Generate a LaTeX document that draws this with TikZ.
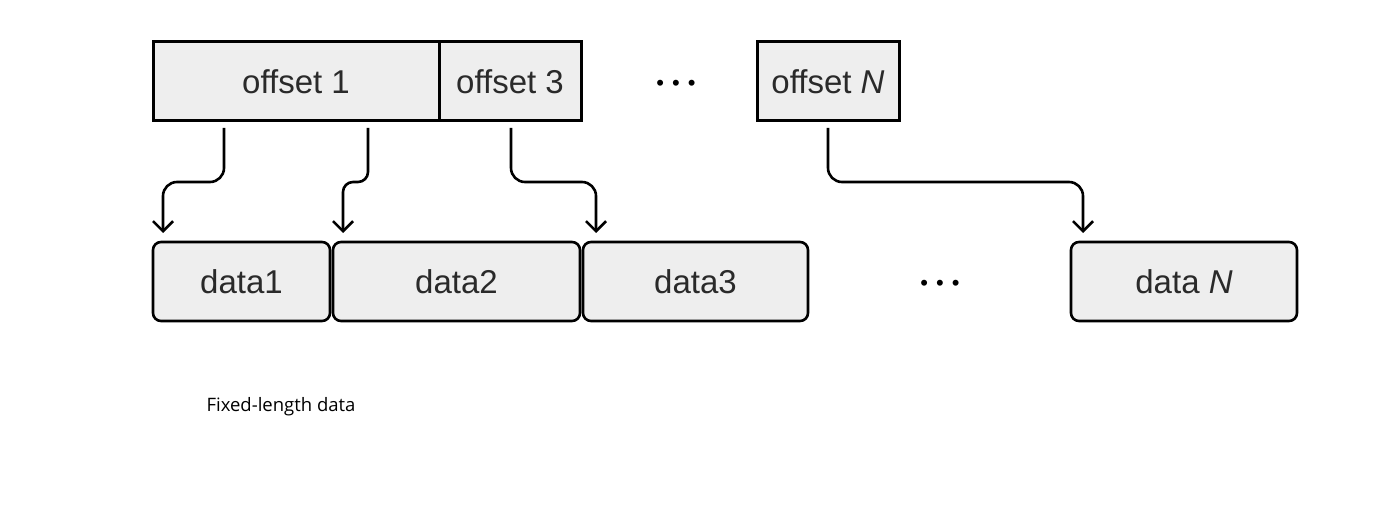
\documentclass[tikz,border=0pt]{standalone}
\usepackage{fontspec}
\setmainfont{Liberation Sans}
\newfontfamily\capfont{Open Sans}
\usetikzlibrary{arrows.meta, positioning, calc}
\definecolor{boxgray}{HTML}{EEEEEE}
\definecolor{inkgray}{HTML}{2A2A2A}

\begin{document}
\begin{tikzpicture}[x=1pt, y=1pt,
    offbox/.style={draw, line width=3pt, fill=boxgray, outer sep=0pt, inner sep=0pt,
      minimum height=79pt, text=inkgray, font=\fontsize{33}{40}\selectfont},
    databox/.style={offbox, line width=2.6pt, rounded corners=8pt},
    link/.style={line width=2.6pt, rounded corners=14pt,
      -{Straight Barb[length=10pt, width=20pt]}},
    gap/.style={inner sep=0pt, font=\fontsize{22}{22}\selectfont}]
  \useasboundingbox (0,0) rectangle (1389,517);
  % offset row
  \node[offbox, minimum width=286pt] (off1) at (296,435.5) {offset 1};
  \node[offbox, minimum width=142pt] (off3) at (510,435.5) {offset 3};
  \node[gap] (dotsTop) at (676,432) {\textbullet\hspace{8pt}\textbullet\hspace{8pt}\textbullet};
  \node[offbox, minimum width=142pt] (offN) at (828,435.5) {offset \textit{N}};
  % data row
  \node[databox, minimum width=177pt] (data1) at (241.5,235.5) {data1};
  \node[databox, minimum width=247pt] (data2) at (456.5,235.5) {data2};
  \node[databox, minimum width=225pt] (data3) at (695.5,235.5) {data3};
  \node[gap] (dotsBot) at (940,232) {\textbullet\hspace{8pt}\textbullet\hspace{8pt}\textbullet};
  \node[databox, minimum width=226pt] (dataN) at (1184,235.5) {data \textit{N}};
  % offsets pointing at data
  \draw[link] ([xshift=71pt, yshift=-7pt]off1.south west) -- ++(0,-54)
    -| ([xshift=10pt, yshift=9pt]data1.north west);
  \draw[link, rounded corners=10pt] ([xshift=215pt, yshift=-7pt]off1.south west) -- ++(0,-54)
    -| ([xshift=10pt, yshift=9pt]data2.north west);
  \draw[link] ([xshift=72pt, yshift=-7pt]off3.south west) -- ++(0,-54)
    -| ([xshift=13pt, yshift=9pt]data3.north west);
  \draw[link] ([xshift=71pt, yshift=-7pt]offN.south west) -- ++(0,-54)
    -| ([xshift=12pt, yshift=9pt]dataN.north west);
  % caption
  \node[font=\capfont\fontsize{18.5}{22}\selectfont] (caption) at (281,110) {Fixed-length data};
\end{tikzpicture}
\end{document}
